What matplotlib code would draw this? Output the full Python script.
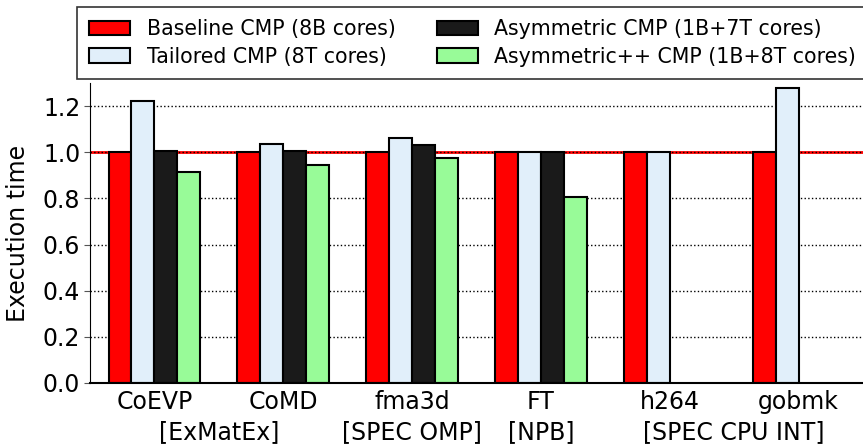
import numpy as np
import matplotlib
matplotlib.use('Agg')
import matplotlib.pyplot as plt
import matplotlib.transforms as mtransforms

benchmarks = ['CoEVP', 'CoMD', 'fma3d', 'FT', 'h264', 'gobmk']
suites = ['[ExMatEx]', '[SPEC OMP]', '[NPB]', '[SPEC CPU INT]']
suite_pos = [0.5, 2.0, 3.0, 4.5]

baseline = [1.0, 1.0, 1.0, 1.0, 1.0, 1.0]
tailored = [1.222, 1.036, 1.063, 1.0, 1.0, 1.279]
asym = [1.006, 1.006, 1.030, 1.0, np.nan, np.nan]
asympp = [0.915, 0.945, 0.977, 0.807, np.nan, np.nan]

series = [
    ('Baseline CMP (8B cores)', baseline, '#ff0000'),
    ('Tailored CMP (8T cores)', tailored, '#e1effa'),
    ('Asymmetric CMP (1B+7T cores)', asym, '#1a1a1a'),
    ('Asymmetric++ CMP (1B+8T cores)', asympp, '#98fb98'),
]

fig = plt.figure(figsize=(8.63, 4.47), dpi=100)
ax = fig.add_axes([90/863, 1-383/447, 773/863, 300/447])

x = np.arange(len(benchmarks))
w = 0.178
handles = []
for i, (name, vals, col) in enumerate(series):
    h = ax.bar(x + (i - 1.5)*w, vals, w, color=col, edgecolor='black',
               linewidth=1.5, label=name, zorder=2)
    handles.append(h)

ax.axhline(1.0, color='red', linewidth=2, zorder=0.4)
ax.set_axisbelow(True)
ax.yaxis.grid(True, linestyle=':', color='black', linewidth=1)

ax.set_xlim(-0.5, 5.5)
ax.set_ylim(0, 1.3)
ax.set_yticks([0.0, 0.2, 0.4, 0.6, 0.8, 1.0, 1.2])
ax.set_yticklabels(['0.0', '0.2', '0.4', '0.6', '0.8', '1.0', '1.2'], fontsize=17)
ax.set_xticks(x)
ax.set_xticklabels(benchmarks, fontsize=17)
ax.tick_params(axis='x', length=0, pad=5)
ax.tick_params(axis='y', length=4, color='#555555', pad=3)
ax.set_ylabel('Execution time', fontsize=17)
ax.yaxis.set_label_coords(-0.077, 0.5)

ax.spines['top'].set_visible(False)
ax.spines['right'].set_visible(False)
ax.spines['bottom'].set_linewidth(1.5)

trans = mtransforms.blended_transform_factory(ax.transData, ax.transAxes)
for s, p in zip(suites, suite_pos):
    ax.text(p, -0.165, s, transform=trans, ha='center', va='center', fontsize=17)

leg = fig.legend(handles=handles, loc='upper left', ncol=2, fontsize=14.8,
                 bbox_to_anchor=(77/863, 1-7/447), borderaxespad=0,
                 fancybox=False, frameon=True, handlelength=2.0,
                 columnspacing=2.0, borderpad=0.6, labelspacing=0.35)
leg.get_frame().set_edgecolor('black')
leg.get_frame().set_linewidth(1.2)

fig.savefig('out.png', dpi=100)
